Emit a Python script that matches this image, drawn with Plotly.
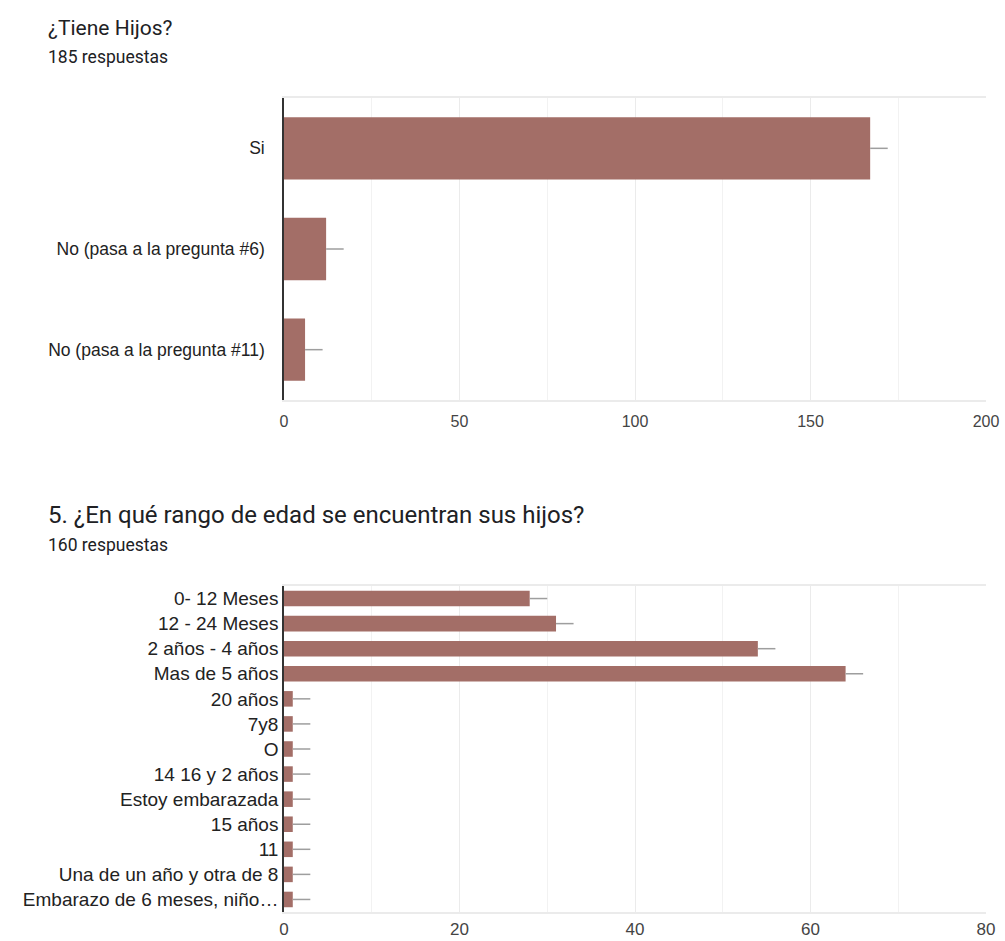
import plotly.graph_objects as go

# ---- data ----
q1_title = "¿Tiene Hijos?"
q1_sub = "185 respuestas"
q1_cats = ["Si", "No (pasa a la pregunta #6)", "No (pasa a la pregunta #11)"]
q1_vals = [167, 12, 6]
q1_err = [5, 5, 5]

q2_title = "5. ¿En qué rango de edad se encuentran sus hijos?"
q2_sub = "160 respuestas"
q2_cats = ["0- 12 Meses", "12 - 24 Meses", "2 años - 4 años", "Mas de 5 años",
           "20 años", "7y8", "O", "14 16 y 2 años", "Estoy embarazada",
           "15 años", "11", "Una de un año y otra de 8",
           "Embarazo de 6 meses, niño…"]
q2_vals = [28, 31, 54, 64, 1, 1, 1, 1, 1, 1, 1, 1, 1]
q2_err = [2] * 13

BAR = "rgb(163,110,103)"
FONT = "Roboto, Arial, sans-serif"
LFONT = "Arial, Liberation Sans, sans-serif"
W, H = 1005, 941

fig = go.Figure()
fig.add_trace(go.Bar(
    x=q1_vals, y=q1_cats, orientation="h", marker=dict(color=BAR, line=dict(width=0)),
    error_x=dict(type="data", array=q1_err, arrayminus=[0] * len(q1_err), symmetric=False,
                 color="#9e9e9e", thickness=1.5, width=0),
    xaxis="x", yaxis="y", showlegend=False, hoverinfo="x+y"))
fig.add_trace(go.Bar(
    x=q2_vals, y=q2_cats, orientation="h", marker=dict(color=BAR, line=dict(width=0)),
    error_x=dict(type="data", array=q2_err, arrayminus=[0] * len(q2_err), symmetric=False,
                 color="#9e9e9e", thickness=1.5, width=0),
    xaxis="x2", yaxis="y2", showlegend=False, hoverinfo="x+y"))

xl, xr = 284 / W, 986 / W
def ydom(top, bot):
    return [1 - bot / H, 1 - top / H]

common_x = dict(showgrid=True, gridcolor="#ebebeb", gridwidth=1, zeroline=False,
                showline=True, linecolor="#ebebeb", linewidth=2, mirror=True,
                ticks="", automargin=False, fixedrange=True)
common_y = dict(showgrid=False, zeroline=False, showline=True, linecolor="#333", linewidth=1.5,
                ticks="", autorange="reversed", automargin=False, fixedrange=True)

fig.update_layout(
    width=W, height=H, margin=dict(l=0, r=0, t=0, b=0, autoexpand=False),
    paper_bgcolor="white", plot_bgcolor="white",
    bargap=0.38,
    xaxis=dict(domain=[xl, xr], anchor="y", range=[0, 200], dtick=50,
               minor=dict(dtick=25, showgrid=True, gridcolor="#f2f2f2"),
               tickfont=dict(family=LFONT, size=16, color="#444"), ticklabelstandoff=6,
               **common_x),
    yaxis=dict(domain=ydom(98, 400), anchor="x",
               tickfont=dict(family=LFONT, size=17.5, color="#222"), ticklabelstandoff=14,
               **common_y),
    xaxis2=dict(domain=[xl, xr], anchor="y2", range=[0, 80], dtick=20,
                minor=dict(dtick=10, showgrid=True, gridcolor="#f2f2f2"),
                tickfont=dict(family=LFONT, size=17, color="#444"), ticklabelstandoff=1,
                **common_x),
    yaxis2=dict(domain=ydom(586, 912), anchor="x2",
                tickfont=dict(family=LFONT, size=19, color="#222"), ticklabelstandoff=0,
                **common_y),
)

annots = [
    (46, 28, q1_title, 21, "#202124"),
    (46, 57, q1_sub, 17.5, "#202124"),
    (46, 515, q2_title, 24, "#202124"),
    (46, 545, q2_sub, 17.5, "#202124"),
]
for x, y, t, s, c in annots:
    fig.add_annotation(x=x / W, y=1 - y / H, xref="paper", yref="paper", text=t,
                       showarrow=False, xanchor="left", yanchor="middle",
                       font=dict(family=FONT, size=s, color=c))

fig.write_html("out.html")
